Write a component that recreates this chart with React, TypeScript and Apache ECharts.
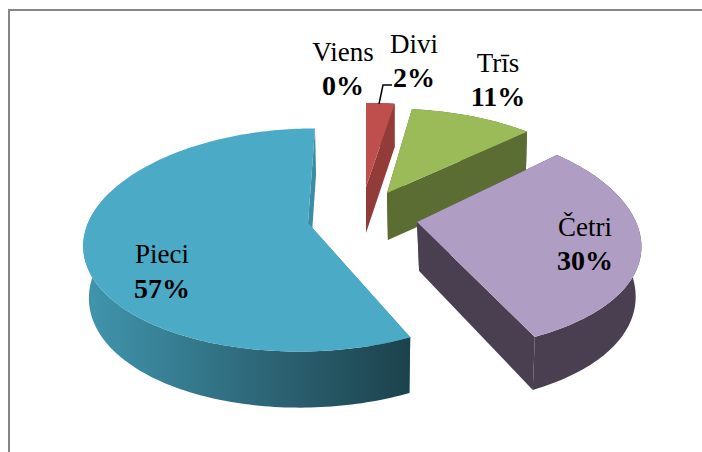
import React, { useEffect, useRef } from "react";
import * as echarts from "echarts";

const categories = ["Viens", "Divi", "Trīs", "Četri", "Pieci"];
const values = [0, 2, 11, 30, 57];

const topColors = ["#8064A2", "#BE4F4C", "#9BBB59", "#B09DC4", "#4BABC6"];
const sideColors = ["#5A4676", "#933B39", "#5B6D33", "#493F50", "#3A8CA4"];

// projection fitted per exploded slice: apex, radii, perspective, shear, thickness
const sliceView = [
  { ax: 366, ay: 187, ox: 0, r: 228, rb: 84, kx: 0, ky: 0, shear: 0, t: 47, tk: 0, bs: 0.98 },
  { ax: 366, ay: 187, ox: 0, r: 228, rb: 84, kx: 0, ky: 0, shear: 0, t: 46, tk: 0.05, bs: 1 },
  { ax: 387, ay: 193, ox: 0, r: 218, rb: 103, kx: 0.22, ky: 0.22, shear: -0.03, t: 47, tk: 0, bs: 0.985 },
  { ax: 417, ay: 222, ox: 3, r: 216, rb: 108.6, kx: 0.22, ky: 0.16, shear: 0, t: 49, tk: 0.09, bs: 0.965 },
  { ax: 308, ay: 223, ox: 0, r: 220, rb: 109, kx: 0.17, ky: 0.152, shear: -0.074, t: 51, tk: 0.1, bs: 0.98 },
];
const labelView = [
  { x: 343, y1: 52, y2: 85 },
  { x: 414, y1: 44, y2: 77 },
  { x: 498, y1: 63, y2: 96 },
  { x: 585, y1: 227, y2: 260 },
  { x: 162, y1: 254, y2: 288 },
];
const FONT = '"Liberation Serif", "Times New Roman", serif';
const total = values.reduce((a, b) => a + b, 0);

function renderSlice(params: any) {
  const i = params.dataIndex;
  const children: any[] = [];
  const lab = labelView[i];
  const texts = [
    {
      type: "text",
      style: { x: lab.x, y: lab.y1, text: categories[i], font: `27px ${FONT}`, fill: "#000", align: "center", verticalAlign: "middle" },
      z2: 100,
    },
    {
      type: "text",
      style: { x: lab.x, y: lab.y2, text: `${Math.round((values[i] / total) * 100)}%`, font: `bold 28px ${FONT}`, fill: "#000", align: "center", verticalAlign: "middle" },
      z2: 100,
    },
  ];
  const v = sliceView[i];
  const before = values.slice(0, i).reduce((a, b) => a + b, 0);
  const a0 = (before / total) * Math.PI * 2;
  const a1 = ((before + values[i]) / total) * Math.PI * 2;

  const top = (a: number) => {
    const U = Math.sin(a);
    const V = -Math.cos(a);
    const y = (v.rb * V) / (1 - v.ky * V);
    const x = (v.r * U) / (1 - v.kx * V) + v.shear * y + v.ox;
    return [v.ax + x, v.ay + y];
  };
  const low = (p: number[], V: number) => [
    v.ax + (p[0] - v.ax) * v.bs + (1 - v.bs) * 60,
    p[1] + v.t * (1 + v.tk * V),
  ];
  const lowAt = (a: number) => low(top(a), -Math.cos(a));
  const apex = [v.ax, v.ay];
  const apexLow = low(apex, 0);

  if (values[i] > 0) {
    const n = Math.max(4, Math.ceil((a1 - a0) / 0.02));
    const rim: number[][] = [];
    const rimLow: number[][] = [];
    for (let k = 0; k <= n; k++) {
      const a = a0 + ((a1 - a0) * k) / n;
      rim.push(top(a));
      rimLow.push(lowAt(a));
    }
    const isPieci = categories[i] === "Pieci";
    const faceFill = isPieci ? "#3B8DA6" : sideColors[i];
    children.push({
      type: "polygon",
      shape: { points: [apex, top(a0), lowAt(a0), apexLow] },
      style: { fill: faceFill },
    });
    children.push({
      type: "polygon",
      shape: { points: [apex, top(a1), lowAt(a1), apexLow] },
      style: { fill: faceFill },
    });
    // the outer wall: for the largest slice only the front part is drawn so its shading spans the visible wall
    const wallIdx = rim.map((_, k) => k).filter((k) => !isPieci || a0 + ((a1 - a0) * k) / n < Math.PI * 1.6);
    const wall = [...wallIdx.map((k) => rim[k]), ...wallIdx.slice().reverse().map((k) => rimLow[k])];
    children.push({
      type: "polygon",
      shape: { points: wall },
      style: {
        fill: isPieci
          ? new echarts.graphic.LinearGradient(1, 0, 0, 0, [
              { offset: 0, color: "#1C424C" },
              { offset: 0.5, color: "#2F6A7C" },
              { offset: 1, color: "#4096AE" },
            ])
          : sideColors[i],
      },
    });
    children.push({
      type: "polygon",
      shape: { points: [apex, ...rim] },
      style: { fill: topColors[i] },
    });
  }
  return { type: "group", children: [...children, ...texts] };
}

export default function App() {
  const ref = useRef<HTMLDivElement>(null);
  useEffect(() => {
    document.body.style.margin = "0";
    const chart = echarts.init(ref.current!, undefined, { renderer: "svg" });
    chart.setOption({
      animation: false,
      backgroundColor: "#FFFFFF",
      graphic: [
        { type: "line", shape: { x1: 8, y1: 10, x2: 702, y2: 10 }, style: { stroke: "#868686", lineWidth: 2 } },
        { type: "line", shape: { x1: 9, y1: 9, x2: 9, y2: 452 }, style: { stroke: "#868686", lineWidth: 2 } },
        {
          type: "polyline",
          z: 10,
          shape: { points: [[379, 104], [383, 85], [392, 85]] },
          style: { stroke: "#000", lineWidth: 1.5, fill: "none" },
        },
      ],
      series: [
        {
          type: "custom",
          coordinateSystem: "none",
          data: categories.map((name, i) => ({ name, value: values[i] })),
          renderItem: renderSlice,
        },
      ],
    });
    return () => chart.dispose();
  }, []);
  return <div ref={ref} style={{ width: 702, height: 452 }} />;
}
